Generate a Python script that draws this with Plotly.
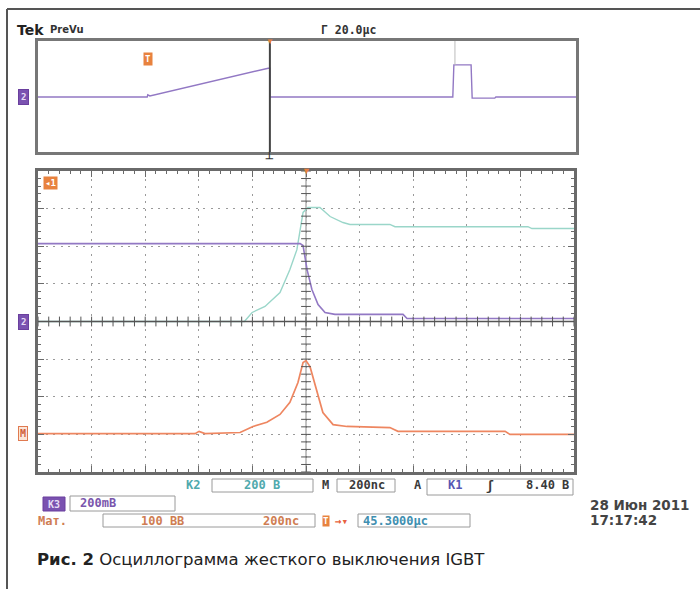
import numpy as np
import plotly.graph_objects as go

W, H = 700, 589

# ---------------- data ----------------
# Main window: time in ns (200 ns/div, trigger at 0), amplitude in divisions
purple_t = [-1000, -22, -11, 4, 22, 45, 71, 108, 362, 377, 1000]
purple_v = [2.07, 2.07, 2.02, 1.38, 0.85, 0.45, 0.24, 0.19, 0.19, 0.08, 0.08]

cyan_t = [-1000, -230, -201, -153, -97, -60, -34, -22, -11, 7, 52, 90, 138, 164, 313, 332, 828, 843, 1000]
cyan_v = [0.0, 0.0, 0.24, 0.40, 0.77, 1.38, 1.91, 2.45, 2.90, 3.03, 3.03, 2.79, 2.63, 2.58, 2.58, 2.52, 2.52, 2.47, 2.47]

math_t = [-1000, -414, -399, -377, -246, -198, -146, -97, -60, -30, -11, 0, 15, 41, 63, 101, 153, 313, 343, 743, 761, 1000]
math_v = [-2.98, -2.98, -2.92, -2.98, -2.95, -2.79, -2.68, -2.47, -2.15, -1.62, -1.09, -1.04, -1.20, -1.89, -2.42, -2.74, -2.79, -2.82, -2.92, -2.92, -3.00, -3.00]

# Overview (PreVu) window: position in divisions 0..10, amplitude in arbitrary units
prev_x = [0, 2.03, 2.04, 2.08, 4.28, 4.31, 4.31, 7.71, 7.73, 8.05, 8.07, 8.49, 8.51, 10]
prev_y = [-0.01, -0.01, 0.03, 0.01, 0.51, 0.51, -0.01, -0.01, 0.57, 0.57, -0.03, -0.03, -0.01, -0.01]
cursor_x = 4.31

header_left = "Tek"
header_mode = "PreVu"
header_time = "Γ 20.0μc"
caption_bold = "Рис. 2"
caption_text = "Осциллограмма жесткого выключения IGBT"
date_text = "28 Июн 2011"
time_text = "17:17:42"

# ---------------- helpers ----------------
def px(x):
    return x / W

def py(y):
    return 1 - y / H

C_PURPLE = "#9278c4"
C_CYAN = "#9ad6c9"
C_ORANGE = "#ee8660"
C_TEAL_TXT = "#4fa9ad"
C_ORANGE_TXT = "#cf7d52"
C_PURPLE_TXT = "#7a56ad"
C_DARK = "#3a3a3a"
MONO = "DejaVu Sans Mono"

fig = go.Figure()

# main traces
fig.add_trace(go.Scatter(x=cyan_t, y=cyan_v, mode="lines",
                         line=dict(color=C_CYAN, width=1.4), xaxis="x", yaxis="y"))
fig.add_trace(go.Scatter(x=purple_t, y=purple_v, mode="lines",
                         line=dict(color=C_PURPLE, width=1.6), xaxis="x", yaxis="y"))
fig.add_trace(go.Scatter(x=math_t, y=math_v, mode="lines",
                         line=dict(color=C_ORANGE, width=1.7), xaxis="x", yaxis="y"))

# center-line tick marks
tx = np.arange(-1000, 1001, 40)
fig.add_trace(go.Scatter(x=tx, y=np.zeros_like(tx), mode="markers",
                         marker=dict(symbol="line-ns", size=7, line=dict(color="#555", width=1)),
                         xaxis="x", yaxis="y"))
ty = np.arange(-4, 4.001, 0.2)
fig.add_trace(go.Scatter(x=np.zeros_like(ty), y=ty, mode="markers",
                         marker=dict(symbol="line-ew", size=7, line=dict(color="#555", width=1)),
                         xaxis="x", yaxis="y"))

# overview trace
fig.add_trace(go.Scatter(x=prev_x, y=prev_y, mode="lines",
                         line=dict(color=C_PURPLE, width=1.4), xaxis="x2", yaxis="y2"))

grid_dash = "2px,5.5px"
fig.update_layout(
    width=W, height=H, margin=dict(l=0, r=0, t=0, b=0),
    paper_bgcolor="white", plot_bgcolor="white", showlegend=False,
    xaxis=dict(domain=[px(38), px(574)], range=[-1000, 1000], dtick=200,
               showgrid=True, gridcolor="#9a9a9a", gridwidth=1, griddash=grid_dash,
               zeroline=False,
               showline=True, linecolor="#6a6a6a", linewidth=3, mirror="allticks",
               ticks="inside", ticklen=6, tickcolor="#6a6a6a",
               minor=dict(ticks="inside", dtick=40, ticklen=3, tickcolor="#6a6a6a"),
               showticklabels=False, fixedrange=True),
    yaxis=dict(domain=[py(472), py(171)], range=[-4, 4], dtick=1,
               showgrid=True, gridcolor="#9a9a9a", gridwidth=1, griddash=grid_dash,
               zeroline=False,
               showline=True, linecolor="#6a6a6a", linewidth=3, mirror="allticks",
               ticks="inside", ticklen=6, tickcolor="#6a6a6a",
               minor=dict(ticks="inside", dtick=0.2, ticklen=3, tickcolor="#6a6a6a"),
               showticklabels=False, fixedrange=True),
    xaxis2=dict(domain=[px(38), px(576)], range=[0, 10], anchor="y2",
                showgrid=False, zeroline=False, showline=True, linecolor="#777",
                linewidth=2.5, mirror=True, showticklabels=False, ticks=""),
    yaxis2=dict(domain=[py(152), py(41)], range=[-1, 1], anchor="x2",
                showgrid=False, zeroline=False, showline=True, linecolor="#777",
                linewidth=2.5, mirror=True, showticklabels=False, ticks=""),
)

shapes = []
# outer frame
shapes.append(dict(type="line", xref="paper", yref="paper", x0=px(7), x1=px(7), y0=py(9), y1=0,
                   line=dict(color="#555", width=2)))
shapes.append(dict(type="line", xref="paper", yref="paper", x0=px(7), x1=1, y0=py(9), y1=py(9),
                   line=dict(color="#555", width=2)))
# main crosshair (above traces)
shapes.append(dict(type="line", xref="x", yref="y", x0=-1000, x1=1000, y0=0, y1=0,
                   line=dict(color="#555", width=1.4), layer="above"))
shapes.append(dict(type="line", xref="x", yref="y", x0=0, x1=0, y0=-4, y1=4,
                   line=dict(color="#888", width=1), layer="below"))
# overview cursor line
shapes.append(dict(type="line", xref="x2", yref="y2", x0=cursor_x, x1=cursor_x, y0=-1, y1=1,
                   line=dict(color="#444", width=2)))
shapes.append(dict(type="line", xref="x2", yref="y2", x0=7.75, x1=7.75, y0=0.57, y1=1,
                   line=dict(color="#bbb", width=1)))

def box(x0, x1, y0, y1, color="#9a9a9a", fill=None):
    d = dict(type="rect", xref="paper", yref="paper", x0=px(x0), x1=px(x1), y0=py(y1), y1=py(y0),
             line=dict(color=color, width=1))
    if fill:
        d["fillcolor"] = fill
    shapes.append(d)

box(212, 313, 479, 492)
box(337, 395, 479, 492)
box(427, 573, 479, 495)
box(70, 175, 496, 511)
box(43, 65, 497, 511, color="#6a3f9e", fill="#7a52b0")
box(103, 315, 514, 527)
box(358, 470, 514, 527)
fig.update_layout(shapes=shapes)

ann = []
def text(x, y, s, size=12, color=C_DARK, anchor="left", bold=True, family=MONO, **kw):
    d = dict(x=px(x), y=py(y), xref="paper", yref="paper", text=(f"<b>{s}</b>" if bold else s),
             showarrow=False, xanchor=anchor, yanchor="middle",
             font=dict(family=family, size=size, color=color))
    d.update(kw)
    ann.append(d)

# header
text(15, 30, header_left, size=14, color="#222", family="DejaVu Sans")
text(48, 29, header_mode, size=10, color="#333", family="DejaVu Sans")
text(319, 30, header_time, size=11.5, color="#333")

# status row 1
text(193, 485, "K2", size=12, color=C_TEAL_TXT, anchor="center")
text(262, 485, "200 В", size=12, color=C_TEAL_TXT, anchor="center")
text(325, 485, "M", size=12, color=C_DARK, anchor="center")
text(367, 485, "200nc", size=12, color=C_DARK, anchor="center")
text(418, 485, "A", size=12, color=C_DARK, anchor="center")
text(455, 485, "K1", size=12, color="#5656b4", anchor="center")
text(490, 485, "ʃ", size=13, color=C_DARK, anchor="center")
text(571, 485, "8.40 В", size=12, color=C_DARK, anchor="right")
# status row 2
text(54, 504, "K3", size=10, color="#e6dcf5", anchor="center")
text(78, 503, "200mВ", size=12, color=C_PURPLE_TXT)
# status row 3
text(36, 521, "Мат.", size=12, color=C_ORANGE_TXT)
text(162, 521, "100 ВВ", size=12, color=C_ORANGE_TXT, anchor="center")
text(281, 521, "200nc", size=12, color=C_ORANGE_TXT, anchor="center")
text(322, 521, "T", size=9, color="white", bgcolor="#e8823e", borderpad=0)
text(333, 521, "→▾", size=11, color="#e8623e")
text(361, 521, "45.3000μc", size=12, color="#3f8fb0")
# date/time
text(588, 505, date_text, size=13.5, color="#444", family="DejaVu Sans")
text(588, 520, time_text, size=13.5, color="#444", family="DejaVu Sans")

# caption
ann.append(dict(x=px(35), y=py(559), xref="paper", yref="paper", showarrow=False,
                xanchor="left", yanchor="middle",
                text=f"<b>{caption_bold}</b> {caption_text}",
                font=dict(family="DejaVu Sans", size=16.5, color="#222")))

# channel markers
ann.append(dict(x=px(23), y=0, xref="paper", yref="y2", text="<b>2</b>", showarrow=False,
                font=dict(family=MONO, size=9, color="#e6dcf5"), bgcolor="#7a52b0",
                bordercolor="#6a3f9e", borderpad=2, xanchor="center", yanchor="middle"))
ann.append(dict(x=px(23), y=0, xref="paper", yref="y", text="<b>2</b>", showarrow=False,
                font=dict(family=MONO, size=9, color="#e6dcf5"), bgcolor="#7a52b0",
                bordercolor="#6a3f9e", borderpad=2, xanchor="center", yanchor="middle"))
ann.append(dict(x=px(23), y=math_v[0], xref="paper", yref="y", text="<b>M</b>", showarrow=False,
                font=dict(family=MONO, size=10, color="#d0603a"), bgcolor="#fbe6da",
                bordercolor="#e07a50", borderpad=1, xanchor="center", yanchor="middle"))
ann.append(dict(x=px(50), y=py(183), xref="paper", yref="paper", text="<b>◂1</b>", showarrow=False,
                font=dict(family=MONO, size=9, color="white"), bgcolor="#e8823e",
                borderpad=1, xanchor="center", yanchor="middle"))
ann.append(dict(x=px(148), y=py(59), xref="paper", yref="paper", text="<b>T</b>", showarrow=False,
                font=dict(family=MONO, size=9, color="white"), bgcolor="#e8823e",
                borderpad=1, xanchor="center", yanchor="middle"))
# trigger position markers
ann.append(dict(x=0, y=4, xref="x", yref="y", text="▼", showarrow=False,
                font=dict(size=9, color="#e8823e"), xanchor="center", yanchor="middle"))
ann.append(dict(x=cursor_x, y=1, xref="x2", yref="y2", text="▼", showarrow=False,
                font=dict(size=8, color="#e8823e"), xanchor="center", yanchor="middle"))
ann.append(dict(x=cursor_x, y=-1, xref="x2", yref="y2", text="<b>⊥</b>", showarrow=False,
                font=dict(size=10, color="#333"), xanchor="center", yanchor="top", yshift=6))

fig.update_layout(annotations=ann)
fig.write_html("out.html")
